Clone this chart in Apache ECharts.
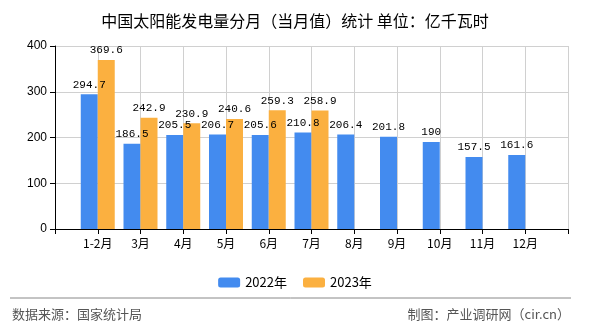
<!DOCTYPE html>
<html><head><meta charset="utf-8">
<script src="https://cdn.jsdelivr.net/npm/echarts@6/dist/echarts.min.js"></script>
<style>html,body{margin:0;padding:0;background:#fff}#c{width:590px;height:330px}</style>
</head><body><div id="c"></div>
<script>
var categories = ['', '1-2月', '3月', '4月', '5月', '6月', '7月', '8月', '9月', '10月', '11月', '12月', ''];
var seriesNames = ['2022年', '2023年'];
var values2022 = [null, 294.7, 186.5, 205.5, 206.7, 205.6, 210.8, 206.4, 201.8, 190, 157.5, 161.6, null];
var values2023 = [null, 369.6, 242.9, 230.9, 240.6, 259.3, 258.9, null, null, null, null, null, null];
var yTicks = [0, 100, 200, 300, 400];

var chart = echarts.init(document.getElementById('c'));
var labelStyle = {show: true, position: 'top', distance: 4, color: '#000', fontSize: 11, fontFamily: 'Liberation Mono, monospace'};
chart.setOption({
  animation: false,
  title: {text: '中国太阳能发电量分月（当月值）统计 单位：亿千瓦时', left: 'center', top: 8,
    textStyle: {fontSize: 16, fontWeight: 'normal', color: '#000', fontFamily: 'Noto Sans CJK SC'}},
  legend: {data: seriesNames, left: 'center', top: 271, itemWidth: 22, itemHeight: 10, itemGap: 16,
    textStyle: {fontSize: 13, color: '#000', fontFamily: 'Noto Sans CJK SC'}},
  grid: {left: 55, right: 22, top: 46, bottom: 101},
  xAxis: {type: 'category', data: categories, boundaryGap: false,
    axisLine: {lineStyle: {color: '#000'}},
    axisTick: {show: true, interval: 0, length: 5, lineStyle: {color: '#000'}},
    axisLabel: {interval: 0, color: '#000', fontSize: 12, margin: 8, fontFamily: 'Noto Sans CJK SC'},
    splitLine: {show: true, interval: 0, lineStyle: {color: '#d0d0d0'}}},
  yAxis: {type: 'value', min: yTicks[0], max: yTicks[yTicks.length - 1], interval: 100,
    axisLine: {show: true, lineStyle: {color: '#000'}},
    axisTick: {show: true, length: 5, lineStyle: {color: '#000'}},
    axisLabel: {color: '#000', fontSize: 12, margin: 8},
    splitLine: {lineStyle: {color: '#d0d0d0'}}},
  series: [
    {name: seriesNames[0], type: 'bar', data: values2022, barWidth: 17, barGap: '0%', itemStyle: {color: '#438bef'}, label: labelStyle},
    {name: seriesNames[1], type: 'bar', data: values2023, barWidth: 17, barGap: '0%', itemStyle: {color: '#fbb040'}, label: labelStyle}
  ],
  graphic: [
    {type: 'line', shape: {x1: 10, y1: 298, x2: 571, y2: 298}, style: {stroke: '#888', lineWidth: 1}},
    {type: 'text', left: 12, top: 308, style: {text: '数据来源：国家统计局', fill: '#555', fontSize: 13, fontFamily: 'Noto Sans CJK SC'}},
    {type: 'text', right: 20, top: 308, style: {text: '制图：产业调研网（cir.cn）', fill: '#555', fontSize: 13, fontFamily: 'Noto Sans CJK SC'}}
  ]
});
</script></body></html>
